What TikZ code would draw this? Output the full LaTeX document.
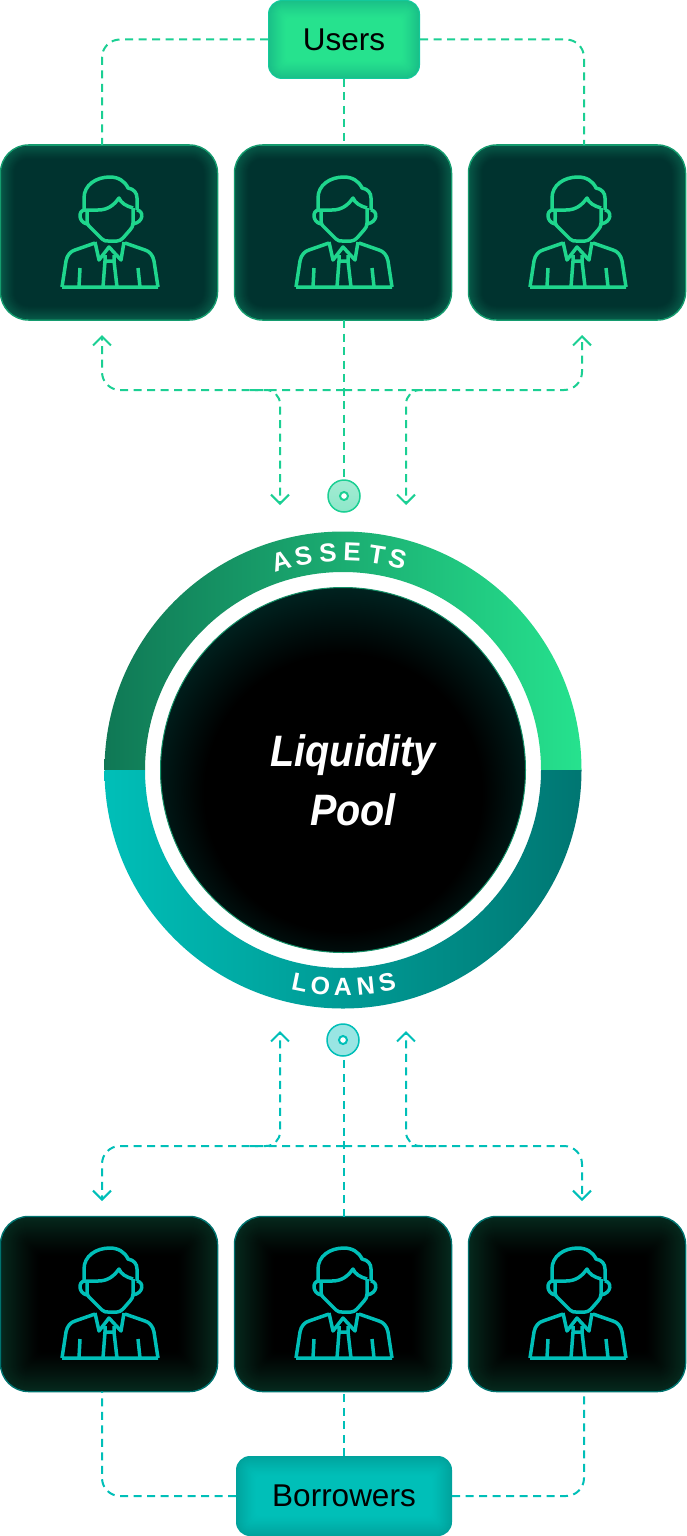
\documentclass[tikz,border=0pt]{standalone}
\usepackage{fontspec}
\setmainfont{Liberation Sans}
\usepackage{xcolor}
\usetikzlibrary{arrows.meta,positioning,calc}
\definecolor{cgreen}{HTML}{1FD68D}
\definecolor{cbright}{HTML}{26E28E}
\definecolor{cflow}{HTML}{1BCF93}
\definecolor{cteal}{HTML}{00BFB8}
\definecolor{cdeep}{HTML}{00332F}
\pgfdeclareradialshading{poolglow}{\pgfpoint{0bp}{-5bp}}{%
  color(0bp)=(black); color(19bp)=(black); color(24bp)=(cdeep!40!black);
  color(30bp)=(cdeep!90!black); color(50bp)=(cdeep)}
% nested fills give the soft inner edge of the boxes
\newcommand{\glowfill}[4]{%
  \foreach \i in {1,...,#3}{
    \pgfmathsetmacro{\mixpct}{100*(1-\i/#3)^1.2}
    \pgfmathsetmacro{\cornerr}{max(#4-\i,3)}
    \fill[#1!\mixpct!#2, rounded corners=\cornerr pt]
      ([shift={(\i,\i)}]path picture bounding box.north west) rectangle
      ([shift={(-\i,-\i)}]path picture bounding box.south east);
  }}
\begin{document}
\begin{tikzpicture}[
    x=1pt, y=-1pt,
    flow/.style={line width=2pt, dash pattern=on 8pt off 5.5pt},
    usersflow/.style={flow, draw=cflow},
    loansflow/.style={flow, draw=cteal},
    tip/.style={-{Straight Barb[length=9pt, width=18pt, line width=2pt]}},
    card/.style={rounded corners=28pt, minimum width=217pt, minimum height=175pt,
      inner sep=0pt, outer sep=0pt, line width=1.5pt},
    usercard/.style={card, draw=cflow!75!black, fill=cdeep,
      path picture={\glowfill{cflow!25!cdeep}{cdeep}{14}{28}}},
    borrowcard/.style={card, draw=cteal!60!black, fill=black,
      path picture={\glowfill{cflow!20!black}{black}{40}{28}}},
    tag/.style={rounded corners=14pt, inner sep=0pt, outer sep=0pt,
      font=\fontsize{31.5}{37}\selectfont, text=black},
    usertag/.style={tag, fill=cflow!70!cteal,
      path picture={\glowfill{cflow!92!black}{cbright}{18}{14}}},
    borrowtag/.style={tag, fill=cteal!85!black,
      path picture={\glowfill{cteal!85!black}{cteal}{20}{14}}},
    dot/.style={circle, minimum size=32pt, inner sep=0pt, outer sep=0pt, line width=1.5pt},
    ringletter/.style={text=white, inner sep=0pt, font=\fontsize{26}{26}\selectfont\bfseries},
    poollabel/.style={text=white, inner sep=0pt, xscale=0.9, font=\fontsize{44}{56}\selectfont\bfseries\itshape},
    person/.pic={
      \draw[pic actions, line width=3.5pt, line join=round]
        (-26,33) -- (-26,21) .. controls (-26,8) and (-14,0) .. (0,0)
        .. controls (8,0) and (15,4) .. (18,11) .. controls (24,12) and (27,16) .. (27,21) -- (27,33)
        (-26,33) -- (-12,33) .. controls (-2,33) and (4,28) .. (9,21) .. controls (11,26) and (16,29) .. (23,31)
        (-23,33) -- (-23,44) .. controls (-23,48) and (-20,50) .. (-18,52) -- (-8,62)
        .. controls (-6,64) and (-4,64) .. (-2,64) -- (7,64) .. controls (9,64) and (11,63) .. (13,61)
        -- (20,53) .. controls (22,51) and (23,49) .. (23,46) -- (23,31)
        (-25,33) .. controls (-32,33) and (-32,45) .. (-23,47)
        (27,33) .. controls (34,34) and (34,45) .. (23,47)
        (-48,110) -- (-44,84) .. controls (-43,78) and (-39,74) .. (-35,73) -- (-15,66)
        (48,110) -- (44,84) .. controls (43,78) and (39,74) .. (35,73) -- (15,66)
        (-48,110) -- (48,110)
        (-15,65) -- (-11,83) -- (-1,70) -- (11,83) -- (14,65)
        (-5,78) -- (-5,84) -- (4,84) -- (4,78)
        (-5,84) -- (-7,110) (4,84) -- (7,110)
        (-30,91) -- (-31,110) (28,91) -- (30,110);
    },
]
\useasboundingbox (0,0) rectangle (686,1536);
% top row
\node[usertag, minimum width=152pt, minimum height=79pt] (users) at (344,39.5) {Users};
\node[usercard] (userA) at (109,232.5) {};
\node[usercard] (userB) at (343,232.5) {};
\node[usercard] (userC) at (577,232.5) {};
\foreach \cx in {110,344,578}{
  \pic[draw=cgreen] at (\cx,177) {person};
}
% users to cards
\draw[usersflow, rounded corners=18pt] (users.west) -| ([xshift=-7pt]userA.north);
\draw[usersflow, rounded corners=18pt] (users.east) -| ([xshift=7pt]userC.north);
\draw[usersflow] (users.south) -- ([xshift=1pt]userB.north);
% ring
\coordinate (ringC) at (343,770);
\shade[left color=cflow!58!black, middle color=cflow!85!black, right color=cbright]
  (104.5,770) arc[start angle=180, end angle=0, radius=238.5pt] -- (541,770)
  arc[start angle=0, end angle=180, radius=198pt] -- cycle;
\shade[left color=cteal, middle color=cteal, right color=cteal!62!black]
  (104.5,770) arc[start angle=180, end angle=360, radius=238.5pt] -- (541,770)
  arc[start angle=360, end angle=180, radius=198pt] -- cycle;
\node[circle, minimum size=365pt, inner sep=0pt, draw=cflow!70!black, line width=1pt, shading=poolglow] (pool) at (ringC) {};
\node[poollabel] (poolA) at (353,755) {Liquidity};
\node[poollabel] (poolB) at (353,810) {Pool};
\foreach \letter/\ang in {A/106.5,S/100.5,S/94,E/87.6,T/81,S/75.5}{
  \node[ringletter, rotate=\ang-90] at ($(ringC)+(\ang:218pt)$) {\letter};
}
\foreach \letter/\ang in {L/258.5,O/264,A/270,N/276,S/281.7}{
  \node[ringletter, font=\fontsize{25}{25}\selectfont\bfseries, rotate=\ang-270] at ($(ringC)+(\ang:217pt)$) {\letter};
}
% upper dot and arrows
\node[dot, draw=cflow, top color=cflow!40!white, bottom color=cflow!50!white] (dotA) at (344,496) {};
\node[circle, minimum size=8pt, inner sep=0pt, draw=cflow, fill=white, line width=2pt] (dotAi) at (dotA) {};
\coordinate (upL) at (102,335);
\coordinate (upR) at (582,335);
\coordinate (downL) at (280,505);
\coordinate (downR) at (406,505);
\coordinate (busA) at (344,390);
\draw[usersflow] (userB.south -| dotA) -- (dotA.north);
\draw[usersflow, tip, rounded corners=18pt] (busA) -| (upL);
\draw[usersflow, tip, rounded corners=18pt] (busA) -| (upR);
\draw[usersflow, tip, rounded corners=14pt] (250,390) -| (downL);
\draw[usersflow, tip, rounded corners=14pt] (436,390) -| (downR);
% lower dot and arrows
\node[dot, draw=cteal, fill=cteal!40!white] (dotB) at (343,1040) {};
\node[circle, minimum size=8pt, inner sep=0pt, draw=cteal, fill=white, line width=2pt] (dotBi) at (dotB) {};
\node[borrowcard] (borrowA) at (109,1304) {};
\node[borrowcard] (borrowB) at (343,1304) {};
\node[borrowcard] (borrowC) at (577,1304) {};
\foreach \cx in {110,344,578}{
  \pic[draw=cteal] at (\cx,1248) {person};
}
\node[borrowtag, minimum width=216pt, minimum height=80pt] (borrowers) at (344,1496) {Borrowers};
\coordinate (liftL) at (280,1031);
\coordinate (liftR) at (406,1031);
\coordinate (dropL) at (102,1201);
\coordinate (dropR) at (582,1201);
\coordinate (busB) at (344,1146);
\draw[loansflow] ([xshift=1pt]borrowB.north) -- (dotB.south -| busB);
\draw[loansflow, tip, rounded corners=18pt] (busB) -| (dropL);
\draw[loansflow, tip, rounded corners=18pt] (busB) -| (dropR);
\draw[loansflow, tip, rounded corners=14pt] (250,1146) -| (liftL);
\draw[loansflow, tip, rounded corners=14pt] (436,1146) -| (liftR);
% borrowers to cards
\draw[loansflow, rounded corners=18pt] (borrowers.west) -| ([xshift=-7pt]borrowA.south);
\draw[loansflow, rounded corners=18pt] (borrowers.east) -| ([xshift=7pt]borrowC.south);
\draw[loansflow] (borrowers.north) -- ([xshift=1pt]borrowB.south);
\end{tikzpicture}
\end{document}
